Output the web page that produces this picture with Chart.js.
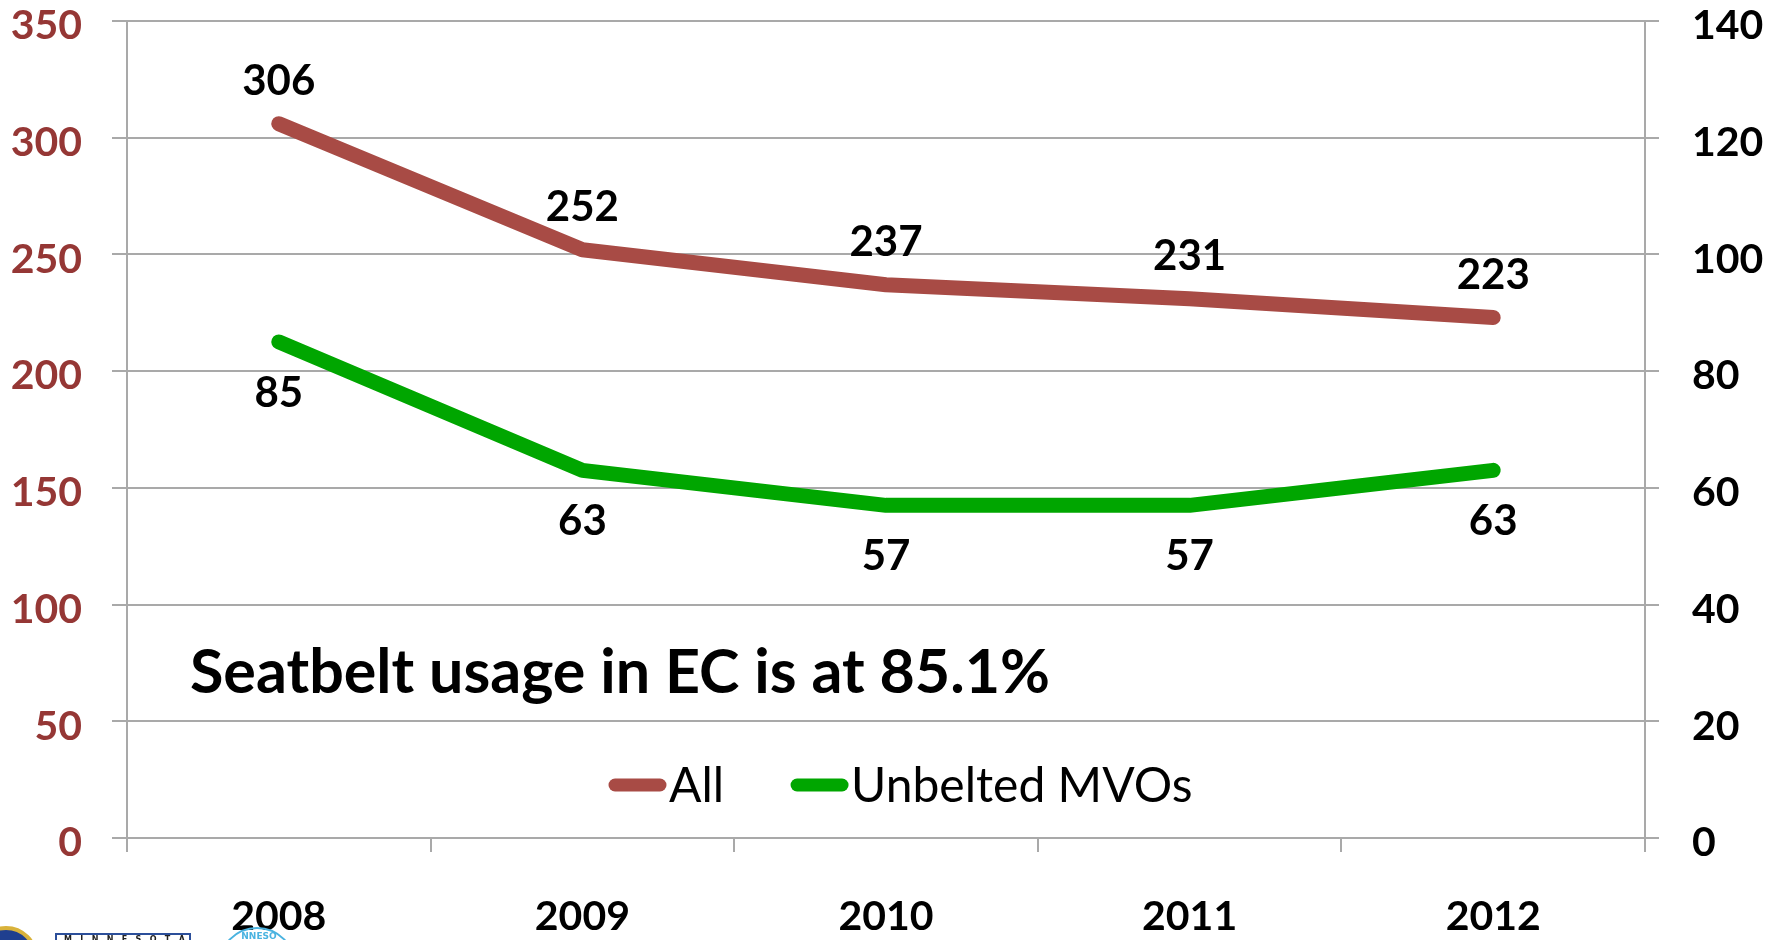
<!DOCTYPE html>
<html>
<head>
<meta charset="utf-8">
<script src="https://cdn.jsdelivr.net/npm/chart.js@4.4.1/dist/chart.umd.min.js"></script>
<style>
  html, body { margin: 0; padding: 0; background: #fff; }
  #wrap { width: 1784px; height: 940px; }
</style>
</head>
<body>
<div id="wrap"><canvas id="myChart" width="1784" height="940"></canvas></div>
<script>
// data
var years = ["2008", "2009", "2010", "2011", "2012"];
var allCrashes = [306, 252, 237, 231, 223];
var unbeltedMvos = [85, 63, 57, 57, 63];
var leftTicks = [0, 50, 100, 150, 200, 250, 300, 350];
var rightTicks = [0, 20, 40, 60, 80, 100, 120, 140];
var noteText = "Seatbelt usage in EC is at 85.1%";

var gridGrey = "#a9a9a9";
var redLine = "#a84b45";
var greenLine = "#00a600";

// value labels above / below the points
var valueLabels = {
    id: "valueLabels",
    afterDatasetsDraw: function (chart) {
        var ctx = chart.ctx;
        ctx.save();
        ctx.font = "bold 42px Lato";
        ctx.fillStyle = "#000";
        ctx.textAlign = "center";
        ctx.textBaseline = "middle";
        chart.data.datasets.forEach(function (ds, i) {
            var meta = chart.getDatasetMeta(i);
            var shift = i === 0 ? -42 : 51;
            meta.data.forEach(function (pt, j) {
                ctx.fillText(ds.data[j], pt.x, pt.y + shift);
            });
        });
        ctx.restore();
    }
};

// text note + legend inside the plot, logo bits at the bottom
var insideStuff = {
    id: "insideStuff",
    afterDraw: function (chart) {
        var ctx = chart.ctx;
        var area = chart.chartArea;
        ctx.save();
        ctx.fillStyle = "#000";
        ctx.textBaseline = "middle";
        ctx.textAlign = "left";
        ctx.font = "bold 61px Lato";
        ctx.fillText(noteText, area.left + 63, 673);

        // legend
        var x = 609;
        var y = 785;
        ctx.font = "48px Lato";
        ctx.lineCap = "round";
        ctx.lineWidth = 13;
        chart.data.datasets.forEach(function (ds) {
            ctx.strokeStyle = ds.borderColor;
            ctx.beginPath();
            ctx.moveTo(x + 6, y);
            ctx.lineTo(x + 51, y);
            ctx.stroke();
            ctx.fillText(ds.label, x + 60, y + 2);
            x = x + 60 + ctx.measureText(ds.label).width + 67;
        });

        // logos cut off at the bottom edge
        ctx.beginPath();
        ctx.arc(6, 958, 30, 0, Math.PI * 2);
        ctx.fillStyle = "#1f3f8f";
        ctx.fill();
        ctx.lineWidth = 4;
        ctx.strokeStyle = "#d9b23a";
        ctx.stroke();

        ctx.lineWidth = 2;
        ctx.strokeStyle = "#2c4f9a";
        ctx.strokeRect(56, 934, 134, 12);
        ctx.fillStyle = "#222";
        ctx.font = "bold 8px DejaVu Sans";
        ctx.textAlign = "left";
        ctx.fillText("M   I   N   N   E   S   O   T   A", 64, 940);

        ctx.beginPath();
        ctx.arc(257, 966, 38, Math.PI, Math.PI * 2);
        ctx.strokeStyle = "#4ab3e0";
        ctx.lineWidth = 2;
        ctx.stroke();
        ctx.fillStyle = "#4ab3e0";
        ctx.font = "bold 9px DejaVu Sans";
        ctx.textAlign = "center";
        ctx.fillText("NNESO", 259, 937);
        ctx.restore();
    }
};

var ctx = document.getElementById("myChart").getContext("2d");
window.myChart = new Chart(ctx, {
    type: "line",
    data: {
        labels: years,
        datasets: [
            {
                label: "All",
                data: allCrashes,
                yAxisID: "y",
                borderColor: redLine,
                borderWidth: 15,
                borderCapStyle: "round",
                borderJoinStyle: "round",
                pointRadius: 0,
                tension: 0
            },
            {
                label: "Unbelted MVOs",
                data: unbeltedMvos,
                yAxisID: "y1",
                borderColor: greenLine,
                borderWidth: 15,
                borderCapStyle: "round",
                borderJoinStyle: "round",
                pointRadius: 0,
                tension: 0
            }
        ]
    },
    options: {
        responsive: false,
        animation: false,
        layout: { padding: { top: 21, left: 0, right: 0, bottom: 0 } },
        plugins: {
            legend: { display: false },
            tooltip: { enabled: false }
        },
        scales: {
            x: {
                offset: true,
                grid: {
                    offset: true,
                    drawOnChartArea: false,
                    tickLength: 14,
                    color: gridGrey,
                    lineWidth: 2
                },
                border: { color: gridGrey, width: 2 },
                ticks: {
                    color: "#000",
                    font: { family: "Lato", weight: "bold", size: 41 },
                    padding: 40,
                    maxRotation: 0
                },
                afterFit: function (scale) { scale.height = 102; }
            },
            y: {
                position: "left",
                min: leftTicks[0],
                max: leftTicks[leftTicks.length - 1],
                afterBuildTicks: function (scale) {
                    scale.ticks = leftTicks.map(function (v) { return { value: v }; });
                },
                grid: { color: gridGrey, lineWidth: 2, tickLength: 15 },
                border: { color: gridGrey, width: 2 },
                ticks: {
                    color: "#953735",
                    font: { family: "Lato", weight: "bold", size: 41, lineHeight: 1.0 },
                    padding: 30,
                    labelOffset: 5
                },
                afterFit: function (scale) {
                    scale.width = 127;
                    scale.paddingTop = 20;
                    scale.paddingBottom = 20;
                }
            },
            y1: {
                position: "right",
                min: rightTicks[0],
                max: rightTicks[rightTicks.length - 1],
                afterBuildTicks: function (scale) {
                    scale.ticks = rightTicks.map(function (v) { return { value: v }; });
                },
                grid: { drawOnChartArea: false, color: gridGrey, lineWidth: 2, tickLength: 14 },
                border: { color: gridGrey, width: 2 },
                ticks: {
                    color: "#000",
                    font: { family: "Lato", weight: "bold", size: 41, lineHeight: 1.0 },
                    padding: 33,
                    labelOffset: 5
                },
                afterFit: function (scale) {
                    scale.width = 139;
                    scale.paddingTop = 20;
                    scale.paddingBottom = 20;
                }
            }
        }
    },
    plugins: [valueLabels, insideStuff]
});
</script>
</body>
</html>
